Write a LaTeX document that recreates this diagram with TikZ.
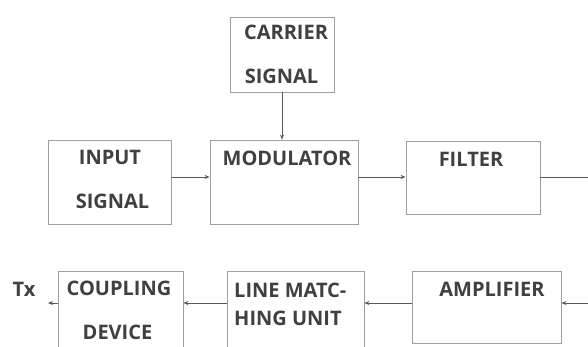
\documentclass[tikz,border=0pt]{standalone}
\usepackage{fontspec}
\setmainfont{Open Sans}
\usetikzlibrary{arrows.meta}

\begin{document}
\begin{tikzpicture}[x=1pt,y=-1pt,
  blk/.style={draw=gray!75, line width=0.8pt, inner sep=0pt},
  lbl/.style={font=\fontsize{20}{20}\selectfont\bfseries, text=black!75, inner sep=0pt, anchor=base},
  conn/.style={draw=black!65, line width=0.8pt, -{Stealth[length=5pt,width=4pt]}}]
\clip (0,0) rectangle (588,347);
\fill[white] (0,0) rectangle (588,347);
% top row
\node[blk, minimum width=104pt, minimum height=75pt] (car) at (282,54.5) {};
\node[blk, minimum width=123pt, minimum height=84pt] (inp) at (109.5,182) {};
\node[blk, minimum width=148pt, minimum height=84pt] (mod) at (284,182) {};
\node[blk, minimum width=134pt, minimum height=73pt] (flt) at (473,177.5) {};
% bottom row
\node[blk, minimum width=125pt, minimum height=89pt] (cpl) at (120.5,315.5) {};
\node[blk, minimum width=137pt, minimum height=89pt] (lmu) at (295.5,315.5) {};
\node[blk, minimum width=149pt, minimum height=72pt] (amp) at (486.5,307) {};
% texts
\node[lbl] (carA) at (286,40) {CARRIER};
\node[lbl] (carB) at (281.5,84) {SIGNAL};
\node[lbl] (inpA) at (110,165) {INPUT};
\node[lbl] (inpB) at (112.5,209) {SIGNAL};
\node[lbl] (modA) at (287,166) {MODULATOR};
\node[lbl] (fltA) at (471,167) {FILTER};
\node[lbl] (cplA) at (119,295) {COUPLING};
\node[lbl] (cplB) at (117.5,339) {DEVICE};
\node[lbl, anchor=base west] (lmuA) at (234,297) {LINE MATC-};
\node[lbl, anchor=base west] (lmuB) at (234,325) {HING UNIT};
\node[lbl] (ampA) at (492,296) {AMPLIFIER};
\node[lbl] (tx) at (24,296) {Tx};
% connectors
\coordinate (fltOut) at (588,177.5);
\coordinate (ampIn) at (588,303);
\coordinate (txEnd) at (48,303);
\draw[conn] (car.south) -- (car.south |- mod.north);
\draw[conn] ([yshift=5pt]inp.east) -- ([yshift=5pt]mod.west);
\draw[conn] ([yshift=5pt]mod.east) -- ([yshift=5pt]mod.east -| flt.west);
\draw[draw=black!65, line width=0.8pt] (flt.east) -- (fltOut);
\draw[conn] (ampIn) -- (ampIn -| amp.east);
\draw[conn] (ampIn -| amp.west) -- (ampIn -| lmu.east);
\draw[conn] (ampIn -| lmu.west) -- (ampIn -| cpl.east);
\draw[conn] (ampIn -| cpl.west) -- (txEnd);
\end{tikzpicture}
\end{document}
